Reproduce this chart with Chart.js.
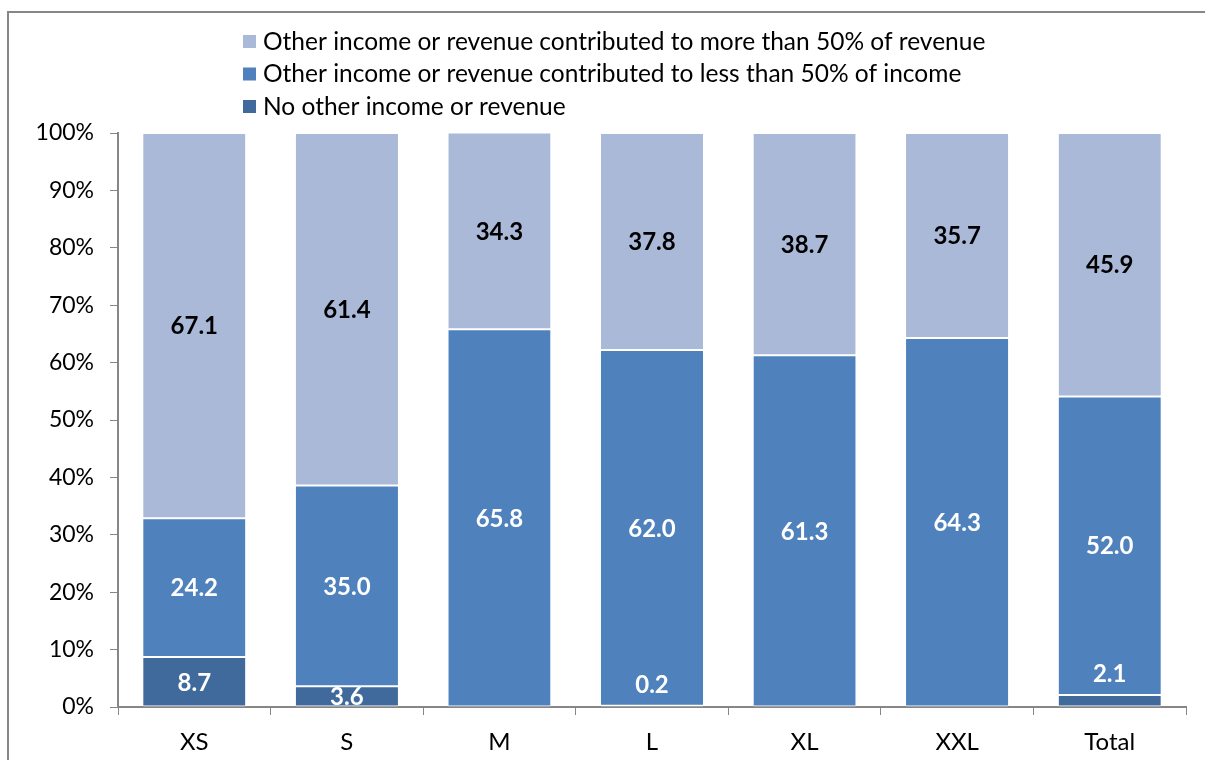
<!DOCTYPE html>
<html>
<head>
<meta charset="utf-8">
<script src="https://cdn.jsdelivr.net/npm/chart.js@4.4.1/dist/chart.umd.min.js"></script>
<style>
  html, body { margin: 0; padding: 0; background: #fff; }
  #wrap { width: 1205px; height: 760px; position: relative; }
</style>
</head>
<body>
<div id="wrap"><canvas id="incomeChart"></canvas></div>
<script>
const categories = ["XS", "S", "M", "L", "XL", "XXL", "Total"];
const noOther = [8.7, 3.6, null, 0.2, null, null, 2.1];
const lessThan50 = [24.2, 35.0, 65.8, 62.0, 61.3, 64.3, 52.0];
const moreThan50 = [67.1, 61.4, 34.3, 37.8, 38.7, 35.7, 45.9];
const yTicks = [0, 10, 20, 30, 40, 50, 60, 70, 80, 90, 100];

const FONT = "Lato, 'Open Sans', sans-serif";

const frame = {
  id: "frame",
  beforeDraw(chart) {
    const ctx = chart.ctx;
    ctx.save();
    ctx.strokeStyle = "#878787";
    ctx.lineWidth = 2;
    ctx.beginPath();
    ctx.moveTo(8, 800);
    ctx.lineTo(8, 12);
    ctx.lineTo(1300, 12);
    ctx.stroke();
    ctx.restore();
  }
};

// legend drawn as one item per row, top item = last dataset
const stackLegend = {
  id: "stackLegend",
  afterDraw(chart) {
    const ctx = chart.ctx;
    const sets = chart.data.datasets.slice().reverse();
    ctx.save();
    ctx.font = "24.5px " + FONT;
    ctx.textBaseline = "middle";
    sets.forEach((ds, i) => {
      const y = 41 + i * 32.5;
      ctx.fillStyle = ds.backgroundColor;
      ctx.fillRect(243, y - 6, 13, 13);
      ctx.fillStyle = "#000";
      ctx.fillText(ds.label, 263, y + 1);
    });
    ctx.restore();
  }
};

const segLabels = {
  id: "segLabels",
  afterDatasetsDraw(chart) {
    const ctx = chart.ctx;
    ctx.save();
    ctx.font = "bold 24px " + FONT;
    ctx.textAlign = "center";
    ctx.textBaseline = "middle";
    chart.data.datasets.forEach((ds, di) => {
      const meta = chart.getDatasetMeta(di);
      meta.data.forEach((bar, i) => {
        const v = ds.data[i];
        if (v === null || v === undefined) return;
        const p = bar.getProps(["x", "y", "base"], true);
        let y = (p.y + p.base) / 2;
        if (v < 3) y = p.y - 22;
        ctx.fillStyle = ds.labelColor;
        ctx.fillText(v.toFixed(1), p.x, y + 1);
      });
    });
    ctx.restore();
  }
};

const barStyle = {
  borderColor: "#ffffff",
  borderWidth: { top: 1, bottom: 1, left: 0, right: 0 },
  borderSkipped: false,
  categoryPercentage: 1,
  barPercentage: 0.67
};

new Chart(document.getElementById("incomeChart"), {
  type: "bar",
  data: {
    labels: categories,
    datasets: [
      Object.assign({ label: "No other income or revenue", data: noOther,
        backgroundColor: "#406a9c", labelColor: "#ffffff" }, barStyle),
      Object.assign({ label: "Other income or revenue contributed to less than 50% of income", data: lessThan50,
        backgroundColor: "#4f81bd", labelColor: "#ffffff" }, barStyle),
      Object.assign({ label: "Other income or revenue contributed to more than 50% of revenue", data: moreThan50,
        backgroundColor: "#aab9d7", labelColor: "#000000" }, barStyle)
    ]
  },
  options: {
    responsive: true,
    maintainAspectRatio: false,
    animation: false,
    layout: { padding: { top: 133, right: 19, bottom: 0, left: 0 } },
    plugins: {
      legend: { display: false },
      tooltip: { enabled: false }
    },
    scales: {
      x: {
        stacked: true,
        afterFit(scale) { scale.height = 53; },
        grid: { drawOnChartArea: false, color: "#868686", tickLength: 8, offset: true },
        border: { color: "#868686", width: 2 },
        ticks: { color: "#000", font: { family: FONT, size: 24 }, padding: 13 }
      },
      y: {
        stacked: true,
        min: 0,
        max: 100,
        afterFit(scale) { scale.width = 118; },
        afterBuildTicks(scale) { scale.ticks = yTicks.map(v => ({ value: v })); },
        grid: { drawOnChartArea: false, color: "#868686", tickLength: 8 },
        border: { color: "#868686", width: 2 },
        ticks: { color: "#000", font: { family: FONT, size: 23 }, padding: 16,
          callback: v => v + "%" }
      }
    }
  },
  plugins: [frame, stackLegend, segLabels]
});
</script>
</body>
</html>
